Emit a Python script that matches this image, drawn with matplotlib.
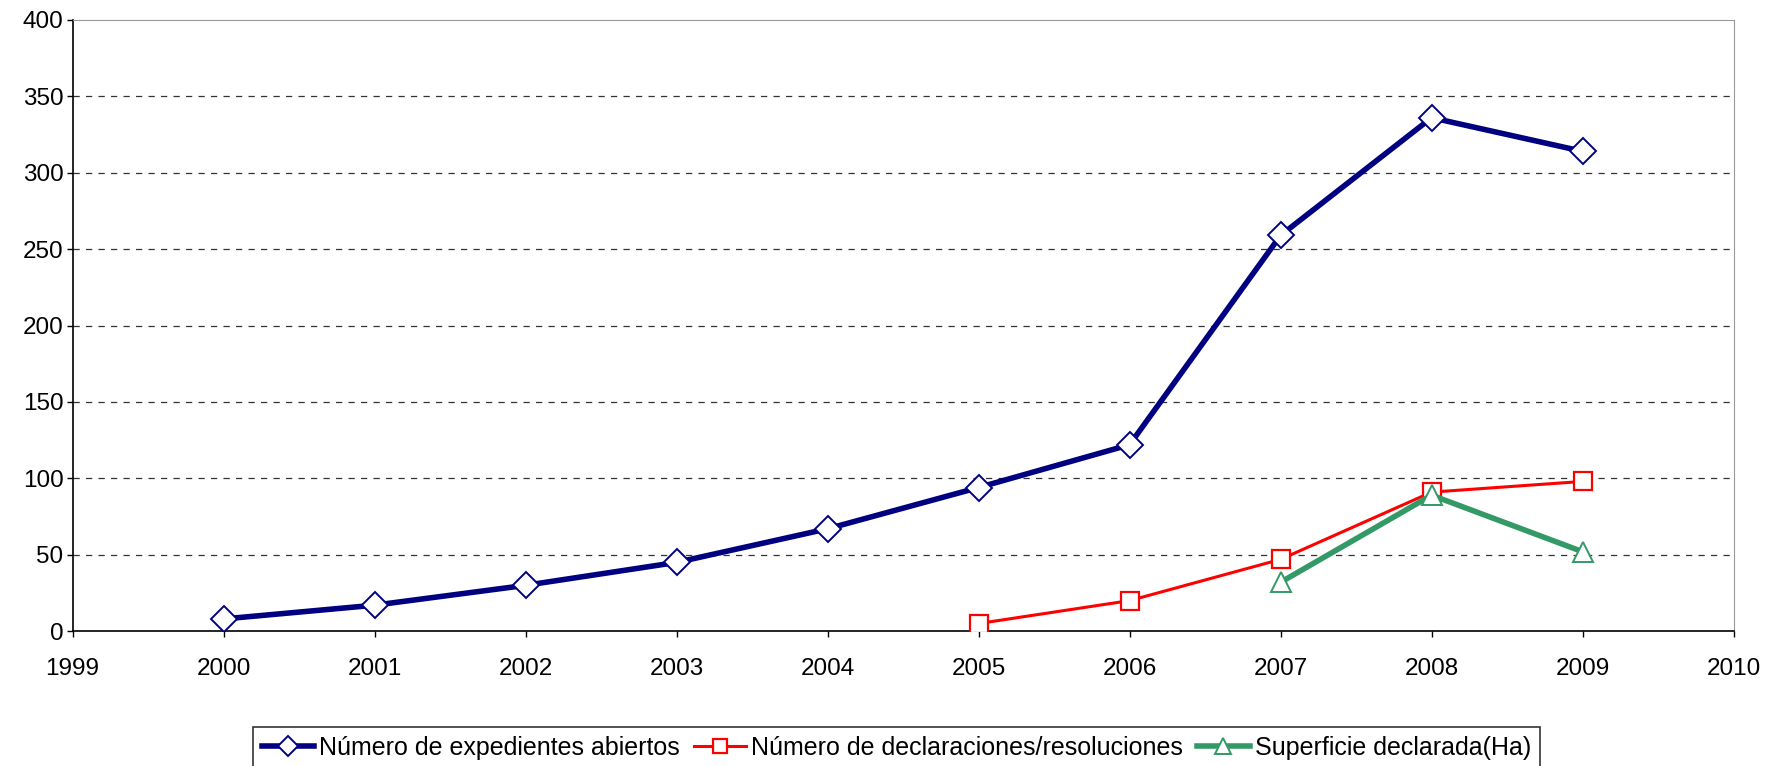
import matplotlib
matplotlib.use('Agg')
from matplotlib import pyplot as plt

# Datos
years_exp = [2000, 2001, 2002, 2003, 2004, 2005, 2006, 2007, 2008, 2009]
expedientes = [8, 17, 30, 45, 67, 94, 122, 259, 336, 314]

years_decl = [2005, 2006, 2007, 2008, 2009]
declaraciones = [5, 20, 47, 91, 98]

years_sup = [2007, 2008, 2009]
superficie = [32, 89, 52]

x_ticks = list(range(1999, 2011))
y_ticks = list(range(0, 401, 50))

plt.rcParams['font.family'] = ['Liberation Sans', 'DejaVu Sans']

fig = plt.figure(figsize=(17.69, 7.66), dpi=100)
ax = fig.add_axes([0.041, 0.176, 0.939, 0.798])

ax.plot(years_exp, expedientes, color='#000080', linewidth=4, marker='D',
        markersize=13, markerfacecolor='white', markeredgecolor='#000080',
        markeredgewidth=1.4, label='Número de expedientes abiertos', zorder=3)
ax.plot(years_decl, declaraciones, color='#ff0000', linewidth=2.2, marker='s',
        markersize=13, markerfacecolor='white', markeredgecolor='#ff0000',
        markeredgewidth=1.6, label='Número de declaraciones/resoluciones', zorder=4)
ax.plot(years_sup, superficie, color='#339966', linewidth=4, marker='^',
        markersize=15, markerfacecolor='white', markeredgecolor='#339966',
        markeredgewidth=1.4, label='Superficie declarada(Ha)', zorder=5)

ax.set_xlim(1999, 2010)
ax.set_ylim(0, 400)
ax.set_xticks(x_ticks)
ax.set_yticks(y_ticks)
ax.tick_params(axis='both', labelsize=17.5, direction='out', length=4.5, width=1, colors='black')
ax.tick_params(axis='x', pad=15)
ax.tick_params(axis='y', pad=2, labelsize=17.5)

for y in y_ticks[1:-1]:
    ax.axhline(y, color='#333333', linestyle=(0, (5, 5)), linewidth=0.9, zorder=1)

ax.spines['left'].set_color('black')
ax.spines['bottom'].set_color('black')
ax.spines['left'].set_linewidth(1.2)
ax.spines['bottom'].set_linewidth(1.2)
ax.spines['top'].set_color('#999999')
ax.spines['right'].set_color('#999999')

leg = ax.legend(loc='upper center', bbox_to_anchor=(0.496, -0.157), ncol=3, fontsize=18,
                frameon=True, fancybox=False, edgecolor='black', handlelength=2.1,
                handletextpad=0.2, columnspacing=0.55, borderpad=0.35, borderaxespad=0,
                markerscale=0.8)
leg.get_frame().set_linewidth(1.2)

plt.savefig('out.png', dpi=100)
plt.close()
